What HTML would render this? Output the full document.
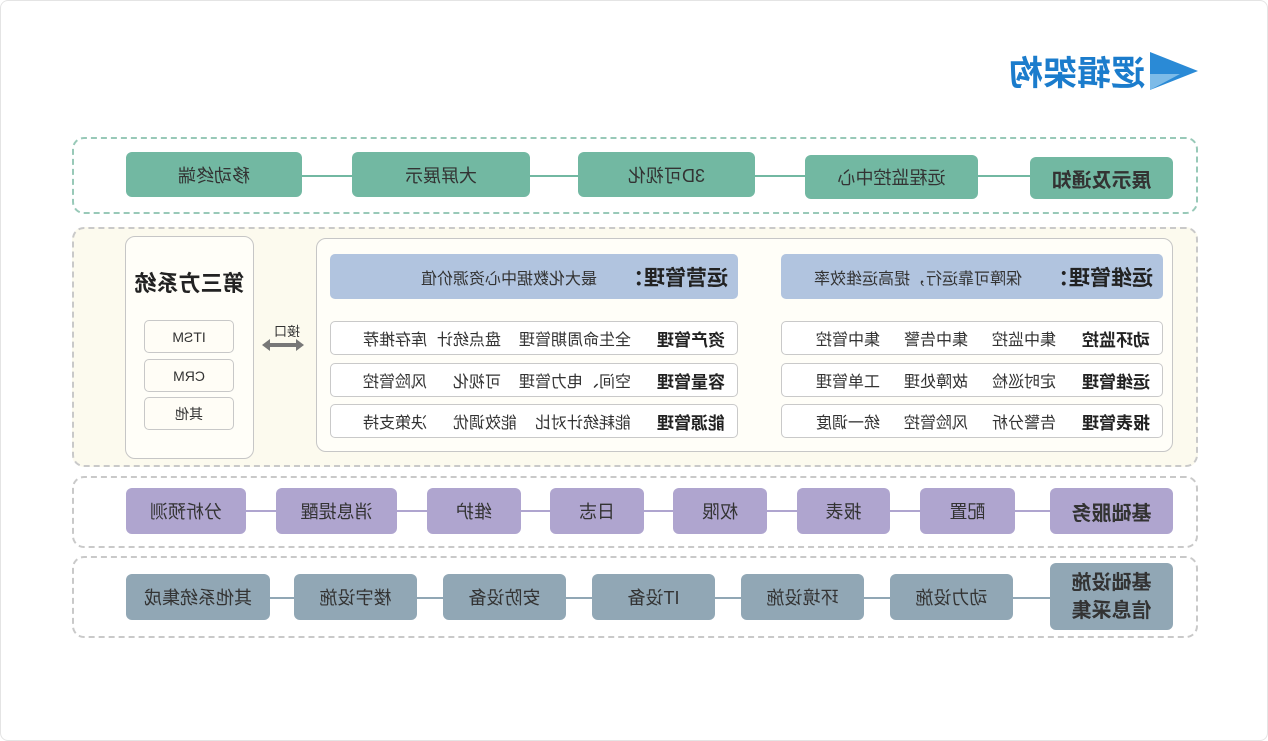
<!DOCTYPE html>
<html><head><meta charset="utf-8"><style>
*{margin:0;padding:0;box-sizing:border-box}
body{width:1268px;height:741px;background:#fff;overflow:hidden;font-family:"Liberation Sans","Noto Sans CJK SC",sans-serif;color:#333}
#w{position:relative;width:1268px;height:741px;transform:scaleX(-1);transform-origin:634px 370px}
.a{position:absolute}
.b{position:absolute;display:flex;align-items:center;justify-content:center;border-radius:6px;font-size:18px;color:#333}
.g{background:#72b8a2}
.p{background:#afa5cf}
.s{background:#91a7b5}
.ln{position:absolute;height:2px}
.row{position:absolute;border:1px solid #c9c9c9;border-radius:5px;background:#fff;display:flex;align-items:center;font-size:16px;color:#333}
.row b{font-size:17px;margin-left:12px;margin-right:26px;color:#222}
.row span{margin-right:24px}
.hdr{position:absolute;background:#b1c4df;border-radius:5px;display:flex;align-items:center;color:#333;font-size:16px}
.hdr b{font-size:21px;color:#222;margin-left:10px;margin-right:26px}
.sm{position:absolute;left:1034px;width:90px;height:33px;border:1px solid #c8c8c8;border-radius:5px;display:flex;align-items:center;justify-content:center;font-size:14px;background:#fffdf6}
</style></head><body><div id="w">
<div class="a" style="left:0;top:0;width:1268px;height:741px;border:1px solid #e4e4e4;border-radius:8px"></div>
<svg class="a" style="left:68px;top:50px" width="52" height="42"><polygon points="2,21 50,2 50,40" fill="#2a8ad6"/><polygon points="20,24 50,24 50,40" fill="#7dbbe8"/></svg>
<div class="a" style="left:123px;top:46px;font-size:34px;font-weight:bold;color:#1b7ccc">逻辑架构</div>

<div class="a" style="left:70px;top:137px;width:1126px;height:77px;border:2px dashed #98c9b8;border-radius:12px"></div>
<div class="ln" style="left:230px;top:175px;width:900px;background:#72b8a2"></div>
<div class="b g" style="left:95px;top:157px;width:143px;height:42px;font-weight:bold;font-size:20px">展示及通知</div>
<div class="b g" style="left:290px;top:155px;width:173px;height:44px">远程监控中心</div>
<div class="b g" style="left:513px;top:152px;width:177px;height:45px">3D可视化</div>
<div class="b g" style="left:738px;top:152px;width:178px;height:45px">大屏展示</div>
<div class="b g" style="left:966px;top:152px;width:176px;height:45px">移动终端</div>

<div class="a" style="left:70px;top:227px;width:1126px;height:240px;border:2px dashed #c9c9c9;border-radius:12px;background:#fcfaee"></div>
<div class="a" style="left:95px;top:238px;width:857px;height:214px;border:1px solid #c6c6c6;border-radius:10px;background:#fffef8"></div>
<div class="hdr" style="left:105px;top:254px;width:382px;height:45px"><b>运维管理：</b>保障可靠运行，提高运维效率</div>
<div class="hdr" style="left:530px;top:254px;width:408px;height:45px"><b>运营管理：</b>最大化数据中心资源价值</div>
<div class="row" style="left:105px;top:321px;width:382px;height:34px"><b>动环监控</b><span>集中监控</span><span>集中告警</span><span>集中管控</span></div>
<div class="row" style="left:105px;top:363px;width:382px;height:34px"><b>运维管理</b><span>定时巡检</span><span>故障处理</span><span>工单管理</span></div>
<div class="row" style="left:105px;top:404px;width:382px;height:34px"><b>报表管理</b><span>告警分析</span><span>风险管控</span><span>统一调度</span></div>
<div class="row" style="left:530px;top:321px;width:408px;height:34px"><b>资产管理</b><span style="margin-right:18px">全生命周期管理</span><span style="margin-right:10px">盘点统计</span><span>库存推荐</span></div>
<div class="row" style="left:530px;top:363px;width:408px;height:34px"><b>容量管理</b><span style="margin-right:18px">空间、电力管理</span><span style="margin-right:26px">可视化</span><span>风险管控</span></div>
<div class="row" style="left:530px;top:404px;width:408px;height:34px"><b>能源管理</b><span style="margin-right:18px">能耗统计对比</span><span style="margin-right:26px">能效调优</span><span>决策支持</span></div>
<div class="a" style="left:1014px;top:236px;width:129px;height:223px;border:1px solid #c6c6c6;border-radius:10px;background:#fffef8"></div>
<div class="a" style="left:1014px;top:266px;width:129px;text-align:center;font-size:22px;font-weight:bold;color:#222">第三方系统</div>
<div class="sm" style="top:320px">ITSM</div>
<div class="sm" style="top:359px">CRM</div>
<div class="sm" style="top:397px">其他</div>
<div class="a" style="left:968px;top:321px;font-size:13px">接口</div>
<svg class="a" style="left:964px;top:339px" width="42" height="12"><polygon points="0,6 8,0 8,4 34,4 34,0 42,6 34,12 34,8 8,8 8,12" fill="#777"/></svg>

<div class="a" style="left:70px;top:476px;width:1126px;height:72px;border:2px dashed #c9c9c9;border-radius:12px"></div>
<div class="ln" style="left:200px;top:510px;width:900px;background:#afa5cf"></div>
<div class="b p" style="left:95px;top:488px;width:123px;height:46px;font-weight:bold;font-size:20px">基础服务</div>
<div class="b p" style="left:253px;top:488px;width:95px;height:46px">配置</div>
<div class="b p" style="left:378px;top:488px;width:93px;height:46px">报表</div>
<div class="b p" style="left:501px;top:488px;width:94px;height:46px">权限</div>
<div class="b p" style="left:624px;top:488px;width:94px;height:46px">日志</div>
<div class="b p" style="left:747px;top:488px;width:94px;height:46px">维护</div>
<div class="b p" style="left:871px;top:488px;width:121px;height:46px">消息提醒</div>
<div class="b p" style="left:1022px;top:488px;width:120px;height:46px">分析预测</div>

<div class="a" style="left:70px;top:556px;width:1126px;height:82px;border:2px dashed #c9c9c9;border-radius:12px"></div>
<div class="ln" style="left:200px;top:597px;width:900px;background:#91a7b5"></div>
<div class="b s" style="left:95px;top:563px;width:123px;height:67px;font-weight:bold;font-size:20px;line-height:28px;text-align:center">基础设施<br>信息采集</div>
<div class="b s" style="left:255px;top:574px;width:123px;height:46px">动力设施</div>
<div class="b s" style="left:404px;top:574px;width:123px;height:46px">环境设施</div>
<div class="b s" style="left:553px;top:574px;width:123px;height:46px">IT设备</div>
<div class="b s" style="left:702px;top:574px;width:123px;height:46px">安防设备</div>
<div class="b s" style="left:851px;top:574px;width:123px;height:46px">楼宇设施</div>
<div class="b s" style="left:998px;top:574px;width:144px;height:46px">其他系统集成</div>
</div></body></html>
